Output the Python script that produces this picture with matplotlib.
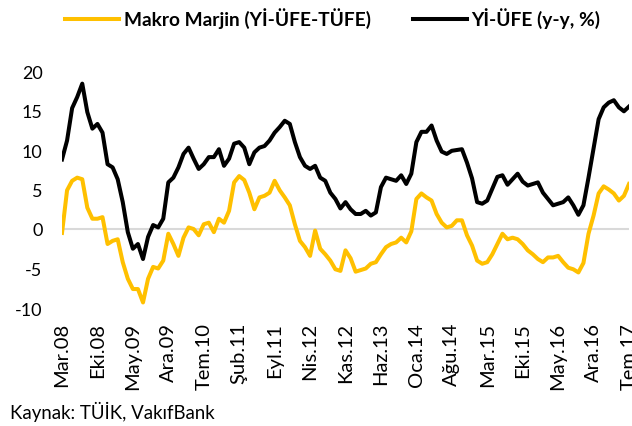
import matplotlib
matplotlib.use("Agg")
import matplotlib.pyplot as plt
import numpy as np

# Yİ-ÜFE yillik degisim (%), Mar.08 - Tem.17, aylik
yi_ufe = [
    8.8, 11.2, 15.3, 16.7, 18.4, 14.8, 12.7, 13.3, 12.2, 8.2,
    7.8, 6.3, 3.4, -0.4, -2.5, -1.9, -3.8, -1.0, 0.5, 0.2,
    1.3, 5.9, 6.5, 7.8, 9.5, 10.3, 8.9, 7.6, 8.2, 9.1,
    9.1, 10.1, 8.0, 8.9, 10.8, 11.0, 10.3, 8.2, 9.7, 10.3,
    10.5, 11.2, 12.2, 12.9, 13.7, 13.3, 11.0, 9.1, 8.0, 7.6,
    8.0, 6.5, 6.1, 4.6, 3.8, 2.6, 3.4, 2.5, 1.9, 1.9,
    2.3, 1.7, 2.1, 5.3, 6.5, 6.3, 6.1, 6.8, 5.7, 7.0,
    11.0, 12.3, 12.3, 13.1, 11.2, 9.8, 9.5, 9.9, 10.0, 10.1,
    8.4, 6.4, 3.4, 3.2, 3.6, 5.1, 6.6, 6.8, 5.6, 6.3,
    7.0, 6.0, 5.5, 5.7, 5.9, 4.6, 3.8, 3.0, 3.2, 3.4,
    4.0, 3.0, 1.8, 3.0, 6.5, 10.2, 13.9, 15.4, 16.0, 16.3,
    15.4, 14.9, 15.5,
]

# Makro marjin (Yİ-ÜFE - TÜFE)
makro_marjin = [
    -0.5, 4.9, 6.1, 6.5, 6.3, 2.7, 1.3, 1.3, 1.5, -1.9,
    -1.5, -1.3, -4.2, -6.3, -7.6, -7.6, -9.3, -6.3, -4.8, -5.0,
    -4.0, -0.6, -1.9, -3.4, -1.1, 0.2, 0.0, -0.8, 0.6, 0.8,
    -0.4, 1.3, 0.8, 2.3, 5.9, 6.7, 6.2, 4.6, 2.5, 4.0,
    4.2, 4.6, 6.1, 4.9, 4.0, 3.0, 0.6, -1.5, -2.3, -3.4,
    -0.2, -2.5, -3.2, -4.0, -5.1, -5.3, -2.7, -3.7, -5.4, -5.2,
    -5.0, -4.4, -4.2, -3.2, -2.3, -1.9, -1.7, -1.1, -1.7, -0.3,
    3.8, 4.5, 4.0, 3.6, 1.9, 0.8, 0.2, 0.4, 1.1, 1.1,
    -0.8, -2.1, -4.0, -4.4, -4.2, -3.2, -1.9, -0.6, -1.3, -1.1,
    -1.3, -1.9, -2.7, -3.2, -3.8, -4.2, -3.6, -3.6, -3.4, -4.2,
    -4.9, -5.1, -5.5, -4.3, -0.6, 1.7, 4.5, 5.4, 5.0, 4.5,
    3.6, 4.2, 5.7,
]

tick_labels = [
    "Mar.08", "Eki.08", "May.09", "Ara.09", "Tem.10", "Şub.11", "Eyl.11",
    "Nis.12", "Kas.12", "Haz.13", "Oca.14", "Ağu.14", "Mar.15", "Eki.15",
    "May.16", "Ara.16", "Tem.17",
]
y_ticks = [-10, -5, 0, 5, 10, 15, 20]

plt.rcParams["font.family"] = ["Lato", "DejaVu Sans"]

fig = plt.figure(figsize=(6.32, 4.27), dpi=100)
ax = fig.add_axes([62 / 632, 1 - 309 / 427, (629 - 62) / 632, (309 - 72) / 427])

x = np.arange(len(yi_ufe))
ax.axhline(0, color="#d9d9d9", lw=1.5, zorder=1)
l1, = ax.plot(x, makro_marjin, color="#ffc000", lw=2.9, solid_joinstyle="round", zorder=3)
l2, = ax.plot(x, yi_ufe, color="black", lw=2.9, solid_joinstyle="round", zorder=3)

ax.set_xlim(0, len(yi_ufe) - 1)
ax.set_ylim(-10, 20)
ax.set_xticks(np.arange(0, len(yi_ufe), 7))
ax.set_xticklabels(tick_labels, rotation=90, fontsize=14.5)
ax.set_yticks(y_ticks)
ax.set_yticklabels([str(v) for v in y_ticks], fontsize=13)
ax.tick_params(axis="both", length=0)
ax.tick_params(axis="y", pad=14)
ax.tick_params(axis="x", pad=10)
for side in ax.spines.values():
    side.set_visible(False)

fig.legend(
    [l1, l2],
    ["Makro Marjin (Yİ-ÜFE-TÜFE)", "Yİ-ÜFE (y-y, %)"],
    loc="center left", bbox_to_anchor=(48 / 632, 1 - 19 / 427),
    ncol=2, frameon=False, handlelength=2.8, handletextpad=0.25,
    columnspacing=2.2, prop={"weight": "bold", "size": 13.8},
)

fig.text(10 / 632, 1 - 412 / 427, "Kaynak: TÜİK, VakıfBank", fontsize=13.4, va="center", ha="left")

fig.savefig("out.png", dpi=100)
